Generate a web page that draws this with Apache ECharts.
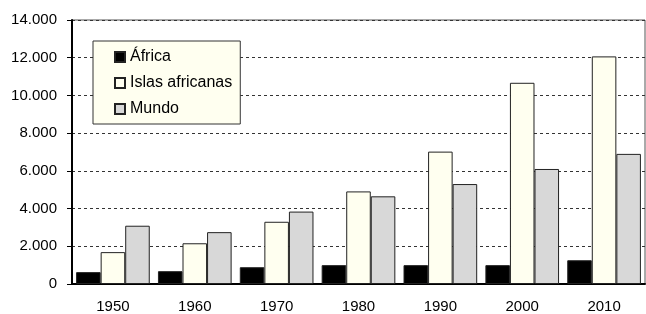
<!DOCTYPE html>
<html>
<head>
<meta charset="utf-8">
<script src="https://cdn.jsdelivr.net/npm/echarts@6/dist/echarts.min.js"></script>
<style>
  html, body { margin: 0; padding: 0; background: #fff; }
  #chart { width: 646px; height: 314px; }
</style>
</head>
<body>
<div id="chart"></div>
<script>
const years = ['1950', '1960', '1970', '1980', '1990', '2000', '2010']
const africa = [630, 680, 890, 1000, 1000, 1000, 1260]
const islas = [1690, 2160, 3300, 4910, 7020, 10670, 12070]
const mundo = [3090, 2750, 3840, 4650, 5300, 6100, 6900]

const font = 'Liberation Sans, Arial, sans-serif'

function fmt(v) {
  return String(v).replace(/\B(?=(\d{3})+(?!\d))/g, '.')
}

function makeBar(name, data, color) {
  return {
    name: name,
    type: 'bar',
    data: data,
    barGap: '0%',
    barCategoryGap: '10%',
    itemStyle: {
      color: color,
      borderColor: '#222',
      borderWidth: 1,
    },
  }
}

const chart = echarts.init(document.getElementById('chart'))

chart.setOption({
  animation: false,
  textStyle: { fontFamily: font },
  grid: {
    left: 72,
    top: 20,
    right: 1,
    bottom: 28,
    show: true,
    borderColor: '#555',
    borderWidth: 1,
  },
  legend: {
    orient: 'vertical',
    left: 93,
    top: 41,
    padding: [8, 8, 7, 21],
    itemGap: 10,
    itemWidth: 10,
    itemHeight: 10,
    icon: 'rect',
    backgroundColor: '#FFFFF0',
    borderColor: '#333',
    borderWidth: 1,
    textStyle: { fontSize: 16, lineHeight: 16, color: '#000', fontFamily: font },
    data: ['África', 'Islas africanas', 'Mundo'],
  },
  xAxis: {
    type: 'category',
    data: years,
    axisLine: { lineStyle: { color: '#000', width: 2 } },
    axisTick: { length: 5, lineStyle: { color: '#000' } },
    axisLabel: { color: '#000', fontSize: 15, margin: 15, fontFamily: font },
  },
  yAxis: {
    type: 'value',
    min: 0,
    max: 14000,
    interval: 2000,
    axisLine: { show: true, lineStyle: { color: '#000', width: 2 } },
    axisTick: { show: true, length: 5, lineStyle: { color: '#000' } },
    axisLabel: {
      color: '#000',
      fontSize: 15,
      margin: 15,
      fontFamily: font,
      formatter: fmt,
    },
    splitLine: { lineStyle: { color: '#333', type: [3, 3], width: 1 } },
  },
  series: [
    makeBar('África', africa, '#000'),
    makeBar('Islas africanas', islas, '#FFFFF0'),
    makeBar('Mundo', mundo, '#D8D8D8'),
  ],
})
</script>
</body>
</html>
